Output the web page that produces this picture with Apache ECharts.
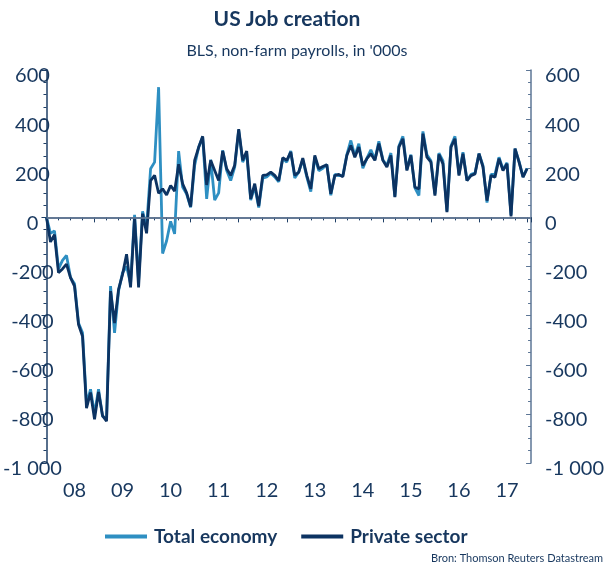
<!DOCTYPE html>
<html>
<head>
<meta charset="utf-8">
<script src="https://cdn.jsdelivr.net/npm/echarts@6/dist/echarts.min.js"></script>
<style>
  html, body { margin: 0; padding: 0; background: #ffffff; }
  #chart { width: 607px; height: 567px; }
</style>
</head>
<body>
<div id="chart"></div>
<script>
// Monthly change in non-farm payrolls ('000s), Jan 2008 - Jan 2018
const yearLabels = ['08', '09', '10', '11', '12', '13', '14', '15', '16', '17'];

const totalEconomy = [
  // 2008
  0, -65, -55, -210, -175, -155, -245, -270, -430, -470, -760, -700,
  // 2009
  -800, -700, -810, -820, -280, -470, -300, -225, -200, -270, 10, -260,
  // 2010
  25, -40, 198, 225, 530, -147, -95, -16, -67, 270, 123, 95,
  // 2011
  41, 211, 286, 327, 75, 235, 70, 100, 273, 191, 150, 205,
  // 2012
  355, 225, 260, 70, 125, 40, 160, 165, 180, 165, 145, 240,
  // 2013
  225, 270, 160, 185, 235, 165, 105, 245, 190, 200, 215, 90,
  // 2014
  175, 170, 170, 255, 313, 250, 300, 200, 240, 275, 235, 310,
  // 2015
  235, 210, 262, 85, 290, 330, 195, 255, 120, 89, 350, 255,
  // 2016
  230, 95, 262, 230, 25, 290, 330, 175, 265, 150, 175, 180,
  // 2017
  260, 210, 60, 175, 175, 245, 195, 222, 10, 280, 228, 165,
  // 2018
  200
];

const privateSector = [
  // 2008
  0, -100, -70, -225, -210, -190, -245, -280, -436, -484, -777, -713,
  // 2009
  -822, -711, -807, -830, -300, -430, -293, -232, -150, -285, 0, -285,
  // 2010
  15, -65, 150, 171, 98, 116, 91, 130, 107, 216, 137, 100,
  // 2011
  44, 232, 285, 330, 132, 232, 191, 150, 270, 198, 171, 212,
  // 2012
  359, 232, 270, 75, 137, 46, 171, 173, 184, 171, 150, 243,
  // 2013
  232, 266, 171, 184, 241, 171, 116, 252, 198, 207, 214, 96,
  // 2014
  170, 175, 165, 252, 293, 245, 286, 211, 239, 259, 232, 300,
  // 2015
  232, 205, 252, 82, 286, 320, 191, 252, 123, 116, 341, 245,
  // 2016
  225, 89, 256, 218, 21, 286, 320, 170, 259, 150, 170, 177,
  // 2017
  259, 205, 68, 170, 164, 239, 191, 218, 4, 280, 225, 164,
  // 2018
  198
];

const navy = '#17375e';
const lightBlue = '#2e8fc2';
const darkBlue = '#0c3362';

function fmtThousands(v) {
  const s = String(Math.abs(v));
  const grouped = s.replace(/\B(?=(\d{3})+(?!\d))/g, ' ');
  return (v < 0 ? '-' : '') + grouped;
}

const toPairs = arr => arr.map((v, i) => [i, v]);
const labelPositions = yearLabels.map((_, k) => 12 * k + 7);

const chart = echarts.init(document.getElementById('chart'), null, { renderer: 'canvas' });

const yAxisBase = {
  type: 'value',
  min: -1000,
  max: 600,
  interval: 200,
  splitLine: { show: false },
  minorTick: { show: true, splitNumber: 4, length: 3, lineStyle: { color: '#5d7696', width: 1 } },
  axisTick: { show: true, length: 5, lineStyle: { color: '#5d7696', width: 1 } },
  axisLabel: {
    color: navy,
    fontFamily: 'Lato',
    fontSize: 20,
    verticalAlign: 'top',
    lineHeight: 12,
    formatter: fmtThousands
  }
};

chart.setOption({
  animation: false,
  backgroundColor: '#ffffff',
  title: [
    {
      text: 'US Job creation',
      left: 282,
      top: 4,
      textAlign: 'center',
      textStyle: { color: navy, fontFamily: 'Lato', fontWeight: 'bold', fontSize: 21 }
    },
    {
      text: "BLS, non-farm payrolls, in '000s",
      left: 292,
      top: 38,
      textAlign: 'center',
      textStyle: { color: navy, fontFamily: 'Lato', fontWeight: 'normal', fontSize: 16 }
    }
  ],
  legend: {
    left: 100,
    top: 522,
    itemWidth: 42,
    itemHeight: 4,
    itemGap: 24,
    icon: 'rect',
    textStyle: { color: navy, fontFamily: 'Lato', fontWeight: 'bold', fontSize: 19, padding: [0, 0, 0, 2] },
    data: ['Total economy', 'Private sector']
  },
  graphic: [
    {
      type: 'text',
      right: 4,
      top: 553,
      style: { text: 'Bron: Thomson Reuters Datastream', fill: navy, font: '11px Lato' }
    }
  ],
  grid: { left: 44, right: 69, top: 70, bottom: 104 },
  xAxis: {
    type: 'value',
    min: 0,
    max: 121,
    interval: 12,
    splitLine: { show: false },
    axisLine: { show: true, lineStyle: { color: '#1f3f66', width: 1.5 } },
    axisTick: { show: true, length: 5, lineStyle: { color: '#1f3f66', width: 1 } },
    minorTick: { show: true, splitNumber: 4, length: 3, lineStyle: { color: '#1f3f66', width: 1 } },
    axisLabel: {
      customValues: labelPositions,
      color: navy,
      fontFamily: 'Lato',
      fontSize: 20,
      margin: 18,
      formatter: v => yearLabels[Math.round((v - 7) / 12)] || ''
    }
  },
  yAxis: [
    Object.assign({}, yAxisBase, {
      position: 'left',
      axisLine: { show: true, onZero: false, lineStyle: { color: '#1f3f66', width: 1.5 } },
      axisTick: Object.assign({}, yAxisBase.axisTick, { inside: false, lineStyle: { color: '#1f3f66' } }),
      minorTick: Object.assign({}, yAxisBase.minorTick, { lineStyle: { color: '#1f3f66' } }),
      axisLabel: Object.assign({}, yAxisBase.axisLabel, { align: 'center', margin: 14 })
    }),
    Object.assign({}, yAxisBase, {
      position: 'right',
      axisLine: { show: true, onZero: false, lineStyle: { color: '#5d7696', width: 1.5 } },
      axisTick: Object.assign({}, yAxisBase.axisTick, { inside: true }),
      minorTick: Object.assign({}, yAxisBase.minorTick),
      axisLabel: Object.assign({}, yAxisBase.axisLabel, { align: 'left', margin: 14 })
    })
  ],
  series: [
    {
      name: 'Total economy',
      type: 'line',
      data: toPairs(totalEconomy),
      showSymbol: false,
      symbol: 'none',
      lineStyle: { color: lightBlue, width: 2.8 },
      itemStyle: { color: lightBlue },
      z: 2,
      markLine: {
        silent: true,
        symbol: 'none',
        label: { show: false },
        lineStyle: { color: '#6a7e99', width: 1.5, type: 'solid' },
        data: [{ yAxis: 0 }]
      }
    },
    {
      name: 'Private sector',
      type: 'line',
      data: toPairs(privateSector),
      showSymbol: false,
      symbol: 'none',
      lineStyle: { color: darkBlue, width: 2.8 },
      itemStyle: { color: darkBlue },
      z: 3
    }
  ]
});
</script>
</body>
</html>
